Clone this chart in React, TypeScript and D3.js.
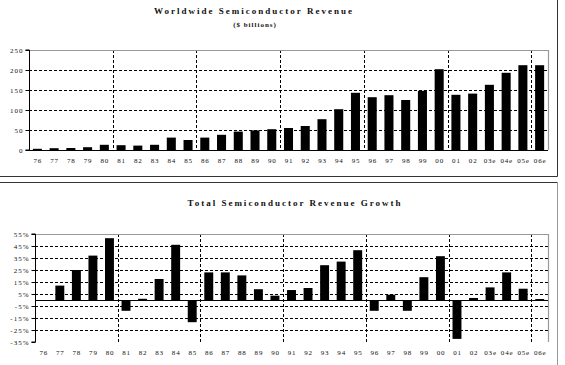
import React, { useEffect, useRef } from 'react';
import * as d3 from 'd3';

const years = ['76', '77', '78', '79', '80', '81', '82', '83', '84', '85', '86', '87', '88', '89', '90',
  '91', '92', '93', '94', '95', '96', '97', '98', '99', '00', '01', '02', '03e', '04e', '05e', '06e'];

// $ billions
const revenue = [3, 4.5, 5, 7, 13, 12, 11, 13, 31, 25, 31, 38, 46, 49, 52,
  55, 60, 77, 102, 143, 132, 137, 125, 148, 202, 138, 141, 163, 193, 212, 212];

// % growth (no value for 76)
const growth = [null, 12, 25, 37, 51.5, -9, 1, 17.5, 46, -18.5, 23, 23, 20.5, 9, 3.6,
  8.3, 10, 29, 32, 41.5, -9, 4.4, -9, 19, 36.5, -32.4, 1.7, 10.5, 23, 9.4, 0.8];

const revTicks = [0, 50, 100, 150, 200, 250];
const growthTicks = [55, 45, 35, 25, 15, 5, -5, -15, -25, -35];

const FONT = '"Liberation Serif", "DejaVu Serif", serif';

const App = () => {
  const ref = useRef(null);

  useEffect(() => {
    const root = d3.select(ref.current);
    root.selectAll('*').remove();
    const svg = root
      .append('svg')
      .attr('width', 565)
      .attr('height', 365)
      .style('position', 'absolute')
      .style('left', 0)
      .style('top', 0)
      .style('font-family', FONT);

    svg.append('rect').attr('width', 565).attr('height', 365).attr('fill', '#fff');

    // panel frames
    svg.append('path').attr('d', 'M0,176.5H557.5V0').attr('fill', 'none').attr('stroke', '#333');
    svg.append('path').attr('d', 'M0,182.5H557.5').attr('fill', 'none').attr('stroke', '#333');
    svg.append('path').attr('d', 'M557.5,182.5V365').attr('fill', 'none').attr('stroke', '#999');

    const title = (x, y, text, size) =>
      svg
        .append('text')
        .attr('x', x)
        .attr('y', y)
        .attr('text-anchor', 'middle')
        .attr('font-size', size)
        .attr('font-weight', 'bold')
        .attr('letter-spacing', size > 8 ? 2 : 1)
        .attr('fill', '#111')
        .text(text);

    title(254, 14, 'Worldwide Semiconductor Revenue', 9);
    title(255, 27, '($ billions)', 7);
    title(295, 206, 'Total Semiconductor Revenue Growth', 9);

    const drawPanel = (opts) => {
      const { left, right, top, bottom, domain, ticks, values, fmt, labelY, zero } = opts;
      const x = d3.scaleBand().domain(years).range([left, right]).paddingInner(0.46).paddingOuter(0.23);
      const y = d3.scaleLinear().domain(domain).range([bottom, top]);
      const g = svg.append('g');

      // horizontal dashed grid
      ticks
        .filter((t) => t !== domain[0] && t !== domain[1])
        .forEach((t) => {
          g.append('line')
            .attr('x1', left)
            .attr('x2', right)
            .attr('y1', Math.round(y(t)) + 0.5)
            .attr('y2', Math.round(y(t)) + 0.5)
            .attr('stroke', '#000')
            .attr('stroke-dasharray', '3,2');
        });

      // vertical dashed separators every 5 years
      const step = x.step();
      [5, 10, 15, 20, 25, 30].forEach((i) => {
        const xx = Math.round(left + i * step) + 0.5;
        g.append('line')
          .attr('x1', xx)
          .attr('x2', xx)
          .attr('y1', top)
          .attr('y2', bottom)
          .attr('stroke', '#000')
          .attr('stroke-dasharray', '3,2');
      });

      // plot frame (top/right grey)
      g.append('path')
        .attr('d', `M${left},${top + 0.5}H${right + 0.5}V${bottom}`)
        .attr('fill', 'none')
        .attr('stroke', '#999')
        .attr('stroke-width', 1.2);

      // bars
      g.selectAll('rect.bar')
        .data(years.map((d, i) => ({ d, v: values[i] })).filter((e) => e.v !== null))
        .enter()
        .append('rect')
        .attr('class', 'bar')
        .attr('x', (e) => x(e.d))
        .attr('width', x.bandwidth())
        .attr('y', (e) => Math.min(y(e.v), y(0)))
        .attr('height', (e) => Math.abs(y(e.v) - y(0)))
        .attr('fill', '#000');

      // zero / category axis
      g.append('line')
        .attr('x1', left)
        .attr('x2', right)
        .attr('y1', Math.round(y(zero)) + 0.5)
        .attr('y2', Math.round(y(zero)) + 0.5)
        .attr('stroke', '#000');

      // value axis
      const yAxis = d3.axisLeft(y).tickValues(ticks).tickSize(4).tickFormat(fmt);
      const ax = g.append('g').attr('transform', `translate(${left + 0.5},0)`).call(yAxis);
      ax.select('.domain').attr('stroke', '#000').attr('d', `M-4,${top}H0V${bottom}H-4`);
      ax.selectAll('.tick line').attr('stroke', '#000');
      ax.selectAll('.tick text')
        .attr('font-family', FONT)
        .attr('font-size', 7)
        .attr('letter-spacing', 1)
        .attr('fill', '#111')
        .attr('x', -6);

      // category labels
      g.selectAll('text.cat')
        .data(years)
        .enter()
        .append('text')
        .attr('class', 'cat')
        .attr('x', (d) => x(d) + x.bandwidth() / 2 + 0.5)
        .attr('y', labelY)
        .attr('text-anchor', 'middle')
        .attr('font-size', 7)
        .attr('letter-spacing', 0.8)
        .attr('fill', '#111')
        .text((d) => d);
    };

    drawPanel({
      left: 29,
      right: 548,
      top: 50,
      bottom: 150,
      domain: [0, 250],
      ticks: revTicks,
      values: revenue,
      fmt: (d) => `${d}`,
      labelY: 163,
      zero: 0,
    });

    drawPanel({
      left: 35,
      right: 548,
      top: 234,
      bottom: 342,
      domain: [-35, 55],
      ticks: growthTicks,
      values: growth,
      fmt: (d) => `${d}%`,
      labelY: 355,
      zero: 0,
    });
  }, []);

  return <div ref={ref}></div>;
};

export default App;
